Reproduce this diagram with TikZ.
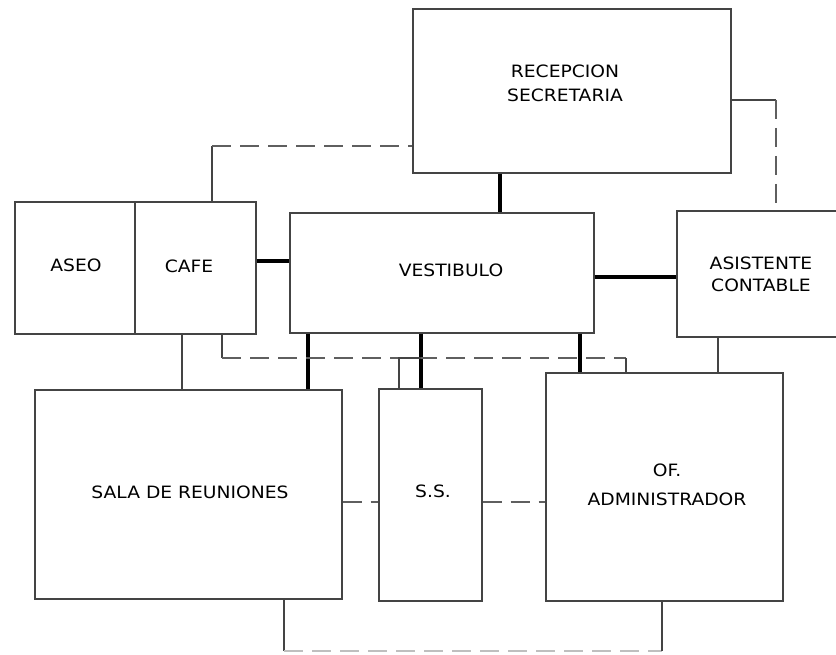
\documentclass[tikz,border=0pt]{standalone}
\usepackage{fontspec}
\usetikzlibrary{fit}
\newfontfamily\lbl[FakeStretch=1.1]{DejaVu Sans}
\definecolor{linec}{RGB}{68,68,68}
\definecolor{dashc}{RGB}{95,95,95}
\begin{document}
\begin{tikzpicture}[x=1pt,y=-1pt,
  room/.style={draw=linec, line width=1.3pt, inner sep=0pt},
  txt/.style={font=\lbl\fontsize{17}{24}\selectfont, align=center, inner sep=0pt},
  conn/.style={draw=linec, line width=1.3pt},
  dsh/.style={draw=dashc, line width=1.3pt, dash pattern=on 19pt off 9pt},
  faint/.style={draw=black!25, line width=1.3pt, dash pattern=on 19pt off 9pt},
  heavy/.style={draw=black, line width=3.6pt}]
\useasboundingbox (0,0) rectangle (836,655);
% corner coordinates
\coordinate (r1a) at (413,9);   \coordinate (r1b) at (731,173);
\coordinate (r2a) at (15,202);  \coordinate (r2b) at (135,334);
\coordinate (r3a) at (135,202); \coordinate (r3b) at (256,334);
\coordinate (r4a) at (290,213); \coordinate (r4b) at (594,333);
\coordinate (r5a) at (677,211); \coordinate (r5b) at (848,337);
\coordinate (r6a) at (35,390);  \coordinate (r6b) at (342,599);
\coordinate (r7a) at (379,389); \coordinate (r7b) at (482,601);
\coordinate (r8a) at (546,373); \coordinate (r8b) at (783,601);
% rooms
\node[room, fit=(r1a)(r1b)] (recep) {};
\node[room, fit=(r2a)(r2b)] (aseo) {};
\node[room, fit=(r3a)(r3b)] (cafe) {};
\node[room, fit=(r4a)(r4b)] (vest) {};
\node[room, fit=(r5a)(r5b)] (asis) {};
\node[room, fit=(r6a)(r6b)] (sala) {};
\node[room, fit=(r7a)(r7b)] (ss) {};
\node[room, fit=(r8a)(r8b)] (ofadm) {};
% labels
\node[txt] (trecep) at (565,83) {RECEPCION\\SECRETARIA};
\node[txt] (taseo) at (76,265) {ASEO};
\node[txt] (tcafe) at (189,266) {CAFE};
\node[txt] (tvest) at (451,270) {VESTIBULO};
\node[txt, font=\lbl\fontsize{17}{22}\selectfont] (tasis) at (761,274) {ASISTENTE\\CONTABLE};
\node[txt] (tsala) at (190,492) {SALA DE REUNIONES};
\node[txt] (tss) at (433,491) {S.S.};
\node[txt, font=\lbl\fontsize{17}{29}\selectfont] (tof) at (667,485) {OF.\\ADMINISTRADOR};
% helper coordinates
\coordinate (c1) at (212,146);
\coordinate (c2) at (776,100);
\coordinate (c3) at (222,358);
\coordinate (c4) at (626,358);
\coordinate (c5) at (399,358);
\coordinate (c6) at (421,358);
\coordinate (c7) at (284,651);
\coordinate (c8) at (662,651);
\coordinate (xa) at (500,0);
\coordinate (xb) at (308,0);
\coordinate (xc) at (580,0);
\coordinate (xd) at (182,0);
\coordinate (xe) at (718,0);
\coordinate (ya) at (0,261);
\coordinate (yb) at (0,277);
\coordinate (yc) at (0,502);
% connectors to reception
\draw[conn] (cafe.north -| c1) -- (c1);
\draw[dsh] (c1) -- (recep.west |- c1);
\draw[conn] (recep.east |- c2) -- (c2);
\draw[dsh] (c2) -- (asis.north -| c2);
\draw[heavy] (recep.south -| xa) -- (vest.north -| xa);
% vestibulo links
\draw[heavy] (cafe.east |- ya) -- (vest.west |- ya);
\draw[heavy] (vest.east |- yb) -- (asis.west |- yb);
\draw[heavy] (vest.south -| xb) -- (sala.north -| xb);
\draw[heavy] (vest.south -| c6) -- (ss.north -| c6);
\draw[heavy] (vest.south -| xc) -- (ofadm.north -| xc);
% cafe - administrador dashed
\draw[conn] (cafe.south -| c3) -- (c3);
\draw[dsh] (c3) -- (c4);
\draw[conn] (c4) -- (ofadm.north -| c4);
\draw[conn] (ss.north -| c5) -- (c5) -- (c6);
% other links
\draw[conn] (cafe.south -| xd) -- (sala.north -| xd);
\draw[conn] (asis.south -| xe) -- (ofadm.north -| xe);
\draw[dsh] (sala.east |- yc) -- (ss.west |- yc);
\draw[dsh] (ss.east |- yc) -- (ofadm.west |- yc);
% bottom link
\draw[conn] (sala.south -| c7) -- (c7);
\draw[faint] (c7) -- (c8);
\draw[conn] (c8) -- (ofadm.south -| c8);
\end{tikzpicture}
\end{document}
